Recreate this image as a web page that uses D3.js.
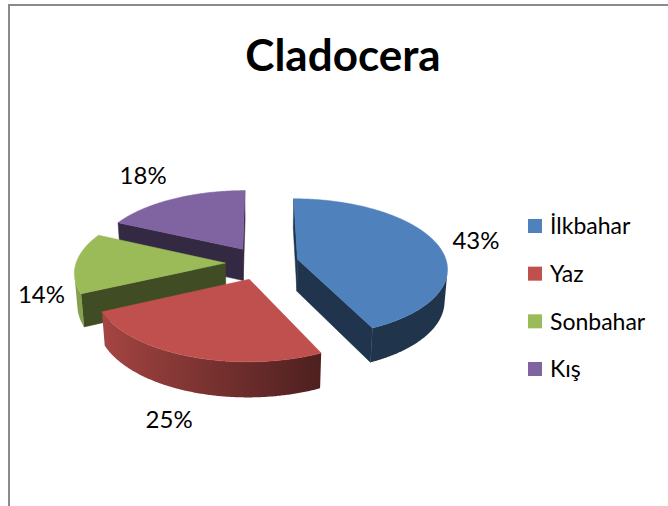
<!DOCTYPE html>
<html>
<head>
<meta charset="utf-8">
<script src="https://cdn.jsdelivr.net/npm/d3@7"></script>
<style>
  body { margin: 0; background: #fff; }
  text { font-family: Lato, "Open Sans", sans-serif; fill: #000; }
</style>
</head>
<body>
<svg id="chart"></svg>
<script>
// chart data
var title = "Cladocera";
var categories = ["İlkbahar", "Yaz", "Sonbahar", "Kış"];
var values = [43, 25, 14, 18];
var colors = ["#4F81BD", "#C0504D", "#9BBB59", "#8064A2"];

var svgWidth = 668;
var svgHeight = 506;

var svg = d3.select("#chart")
    .attr("width", svgWidth)
    .attr("height", svgHeight);
var defs = svg.append("defs");

// chart area border (only left + top show in the crop)
svg.append("path")
    .attr("d", "M9,506V5H668")
    .attr("fill", "none")
    .attr("stroke", "#8a8a8a")
    .attr("stroke-width", 2);

// title
svg.append("text")
    .attr("x", 343)
    .attr("y", 71)
    .attr("text-anchor", "middle")
    .style("font-size", "44px")
    .style("font-weight", "bold")
    .text(title);

// 3d pie settings
var R = 147, depth = 36, explode = 36;
var tilt = 29 * Math.PI / 180, camDist = 1100;
var sinA = Math.sin(tilt), cosA = Math.cos(tilt);
var cx = 262, topCy = 263;
var cy = topCy + depth * cosA * camDist / (camDist - depth * sinA);
var cam = [0, camDist * sinA, -camDist * cosA];

// x right, y up, z away from viewer
function project(x, y, z) {
  var yc = y * cosA + z * sinA;
  var zc = z * cosA - y * sinA;
  var s = camDist / (camDist + zc);
  return [cx + x * s, cy - yc * s];
}

function facing(n, p) {
  return n[0] * (cam[0] - p[0]) + n[1] * (cam[1] - p[1]) + n[2] * (cam[2] - p[2]) > 0;
}

function shade(c, f) {
  var r = d3.rgb(c);
  return d3.rgb(r.r * f, r.g * f, r.b * f).formatHex();
}

var color = d3.scaleOrdinal().domain(categories).range(colors);
var total = d3.sum(values);
var fmt = d3.format(".0%");

var arcs = d3.pie().sort(null).value(function(d) { return d; })(values);

var slices = arcs.map(function(a, i) {
  var m = (a.startAngle + a.endAngle) / 2;
  return {a: a, i: i, m: m, ox: explode * Math.sin(m), oz: explode * Math.cos(m)};
});

// back slices first
var order = slices.slice().sort(function(p, q) { return q.oz - p.oz; });

var line = d3.line();
var pieGroup = svg.append("g");

order.forEach(function(sl) {
  var base = color(categories[sl.i]);
  var a0 = sl.a.startAngle, a1 = sl.a.endAngle;
  var g = pieGroup.append("g");
  function rim(t, y) { return [sl.ox + R * Math.sin(t), y, sl.oz + R * Math.cos(t)]; }
  function pr(p) { return project(p[0], p[1], p[2]); }
  var apexTop = [sl.ox, depth, sl.oz], apexBot = [sl.ox, 0, sl.oz];

  function face(pts, fill) {
    g.append("path")
        .attr("d", line(pts.map(pr)) + "Z")
        .attr("fill", fill)
        .attr("stroke", fill)
        .attr("stroke-width", 0.5)
        .attr("stroke-linejoin", "round");
  }

  // radial cut faces
  var n0 = [-Math.cos(a0), 0, Math.sin(a0)];
  if (facing(n0, apexTop)) face([apexTop, rim(a0, depth), rim(a0, 0), apexBot], shade(base, 0.41));
  var n1 = [Math.cos(a1), 0, -Math.sin(a1)];
  if (facing(n1, apexTop)) face([apexTop, rim(a1, depth), rim(a1, 0), apexBot], shade(base, 0.41));

  // outer wall: visible part as one band with a left-to-right shade
  var steps = Math.ceil((a1 - a0) / (Math.PI / 360));
  var vis = [];
  for (var k = 0; k <= steps; k++) {
    var t = a0 + (a1 - a0) * k / steps;
    var n = [Math.sin(t), 0, Math.cos(t)];
    if (facing(n, rim(t, depth / 2))) vis.push(t);
  }
  if (vis.length > 1) {
    var topPts = vis.map(function(t) { return pr(rim(t, depth)); });
    var botPts = vis.map(function(t) { return pr(rim(t, 0)); }).reverse();
    var xs = topPts.map(function(p) { return p[0]; });
    var x0 = d3.min(xs), x1 = d3.max(xs);
    var gid = "wall" + sl.i;
    var grad = defs.append("linearGradient")
        .attr("id", gid)
        .attr("gradientUnits", "userSpaceOnUse")
        .attr("x1", x0).attr("x2", x1).attr("y1", 0).attr("y2", 0);
    var stops = vis.map(function(t, j) {
      var f = Math.max(0.4, Math.min(0.86, 0.55 - 0.35 * Math.sin(t)));
      return {o: x1 > x0 ? (xs[j] - x0) / (x1 - x0) : 0, c: shade(base, f)};
    }).sort(function(p, q) { return p.o - q.o; });
    grad.selectAll("stop").data(stops).enter().append("stop")
        .attr("offset", function(d) { return d.o; })
        .attr("stop-color", function(d) { return d.c; });
    g.append("path")
        .attr("d", line(topPts.concat(botPts)) + "Z")
        .attr("fill", "url(#" + gid + ")");
  }

  // top face
  var top = [apexTop];
  for (var j = 0; j <= steps; j++) top.push(rim(a0 + (a1 - a0) * j / steps, depth));
  face(top, base);
});

// data labels, outside the rim (front ones below the wall)
var labelGroup = svg.append("g").style("font-size", "24px");
slices.forEach(function(sl) {
  var y = Math.cos(sl.m) < 0.05 ? 0 : depth;
  var p = [sl.ox + R * Math.sin(sl.m), y, sl.oz + R * Math.cos(sl.m)];
  var anchor = project(p[0], p[1], p[2]);
  var t = labelGroup.append("text")
      .attr("text-anchor", "middle")
      .attr("dy", "0.35em")
      .text(fmt(values[sl.i] / total));
  var w = t.node().getComputedTextLength(), h = 18;
  var dx = Math.sin(sl.m), dy = -Math.cos(sl.m) * sinA;
  var len = Math.sqrt(dx * dx + dy * dy);
  var ux = dx / len, uy = dy / len;
  var push = 14 + Math.abs(ux) * w / 2 + Math.abs(uy) * h / 2;
  t.attr("x", anchor[0] + ux * push).attr("y", anchor[1] + uy * push);
});

// legend
var legendY = d3.scalePoint().domain(categories).range([226, 369]);
var legend = svg.append("g").style("font-size", "23px");
var item = legend.selectAll("g")
    .data(categories)
    .enter()
    .append("g")
    .attr("transform", function(d) { return "translate(528," + legendY(d) + ")"; });
item.append("rect")
    .attr("y", -7)
    .attr("width", 14)
    .attr("height", 14)
    .attr("fill", function(d) { return color(d); });
item.append("text")
    .attr("x", 22)
    .attr("dy", "0.36em")
    .text(function(d) { return d; });
</script>
</body>
</html>
